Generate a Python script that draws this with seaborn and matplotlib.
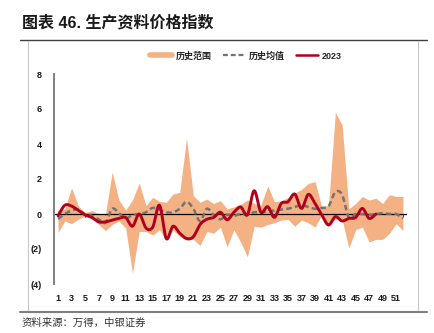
import numpy as np
import pandas as pd
import seaborn as sns
import matplotlib
matplotlib.use("Agg")
import matplotlib.pyplot as plt
from matplotlib.lines import Line2D

# ---------------- data ----------------
weeks = list(range(1, 53))
range_high = [0.25, 0.3, 1.5, 0.45, 0.08, 0.2, 0.0, -0.05, 2.4, 0.8, 0.22, 0.8, 1.77, 0.48,
              0.95, 0.72, 0.67, 1.14, 1.24, 4.35, 1.05, 0.67, 0.85, 0.6, 0.76, 0.3, 0.4, 0.55,
              0.8, 0.6, 0.5, 1.6, 0.7, 0.75, 0.95, 1.2, 1.4, 1.75, 1.85, 0.4, 0.5, 5.8, 5.1,
              0.3, 0.6, 1.0, 0.8, 0.9, 0.6, 1.1, 1.0, 1.0]
range_low = [-1.05, -0.4, -0.55, -0.3, -0.1, -0.2, -0.6, -0.95, -0.6, -0.4, -0.8, -3.4, -1.0,
             -1.0, -1.2, -0.9, -1.5, -0.9, -1.3, -1.5, -1.45, -1.8, -1.0, -1.1, -0.75, -1.87,
             -0.9, -1.6, -2.45, -0.7, -0.75, -0.6, -0.5, -0.35, -0.3, -0.7, -0.35, -0.5, -0.75,
             -0.05, -0.6, -0.3, -0.3, -1.95, -0.9, -0.75, -1.6, -1.45, -1.45, -1.1, -0.55, -0.95]
hist_mean = [-0.28, 0.0, 0.2, 0.25, -0.05, -0.1, -0.3, -0.5, 0.3, 0.05, -0.25, -0.05, 0.0,
             0.1, 0.35, 0.25, 0.1, 0.1, 0.3, 0.7, 0.3, -0.4, 0.3, -0.05, -0.3, -0.05, -0.1,
             0.0, 0.0, 0.1, 0.1, 0.15, 0.2, 0.25, 0.3, 0.4, 0.5, 0.4, 0.3, 0.35, 0.45, 1.25,
             1.1, -0.2, 0.0, 0.0, -0.05, 0.0, 0.05, 0.0, 0.0, -0.25]
y2023 = [-0.1, 0.5, 0.45, 0.2, -0.05, -0.2, -0.45, -0.45, -0.35, -0.25, -0.2, -0.7, 0.0,
         -0.8, -0.75, 0.5, -1.4, -0.7, -1.1, -1.4, -1.3, -0.6, -0.3, -0.2, 0.1, -0.33, 0.1,
         0.4, -0.05, 1.33, 0.1, 0.42, -0.19, 0.6, 0.7, 1.14, 0.32, 1.12, 0.6, -0.05, -0.63,
         -0.15, -0.4, -0.25, -0.2, 0.32, -0.25, 0.0]
ytick_vals = [-4, -2, 0, 2, 4, 6, 8]
ytick_labels = ["(4)", "(2)", "0", "2", "4", "6", "8"]
xtick_vals = list(range(1, 52, 2))
legend_labels = ["历史范围", "历史均值", "2023"]
title = "图表 46. 生产资料价格指数"
source = "资料来源：万得，中银证券"

# ---------------- style ----------------
sns.set_theme(style="white")
plt.rcParams["font.family"] = ["Liberation Sans", "Noto Sans CJK SC", "DejaVu Sans"]

C_FILL = "#F4B183"
C_MEAN = "#737373"
C_RED = "#B0001E"


def smooth(x, y, n=16):
    """Excel-style smoothed line (Catmull-Rom Bezier) through the data points."""
    x = np.asarray(x, float)
    y = np.asarray(y, float)
    xs, ys = [], []
    m = len(x)
    t = np.linspace(0, 1, n, endpoint=False)
    for i in range(m - 1):
        i0, i3 = max(i - 1, 0), min(i + 2, m - 1)
        for arr, out in ((x, xs), (y, ys)):
            p0, p1, p2, p3 = arr[i0], arr[i], arr[i + 1], arr[i3]
            c1 = p1 + (p2 - p0) / 6.0
            c2 = p2 - (p3 - p1) / 6.0
            out.extend((1 - t) ** 3 * p1 + 3 * (1 - t) ** 2 * t * c1
                       + 3 * (1 - t) * t ** 2 * c2 + t ** 3 * p2)
    xs.append(x[-1])
    ys.append(y[-1])
    return np.array(xs), np.array(ys)


W, H = 435, 333
fig = plt.figure(figsize=(W / 100, H / 100), dpi=100)
ax = fig.add_axes([54 / W, 1 - 284 / H, (407 - 54) / W, (284 - 74) / H])

ax.fill_between(weeks, range_low, range_high, color=C_FILL, lw=0, zorder=1)

mx, my = smooth(weeks, hist_mean)
sns.lineplot(x=mx, y=my, ax=ax, color=C_MEAN, lw=1.8, zorder=3,
             linestyle=(0, (2.2, 1.3)), estimator=None, sort=False)

rx, ry = smooth(weeks[:len(y2023)], y2023)
sns.lineplot(x=rx, y=ry, ax=ax, color=C_RED, lw=2.1, zorder=4, estimator=None, sort=False)

ax.axhline(0, color="black", lw=0.9, zorder=2)

ax.set_xlim(0.4, 52.6)
ax.set_ylim(-4, 8)

for s in ["top", "right", "bottom"]:
    ax.spines[s].set_visible(False)
ax.spines["left"].set_color("#808080")
ax.spines["left"].set_linewidth(1.4)

ax.set_yticks(ytick_vals)
ax.set_yticklabels(ytick_labels)
ax.tick_params(axis="y", direction="out", length=3, width=0.8, color="#808080",
               pad=6, labelsize=6.5, labelcolor="#1a1a1a")
for lab in ax.get_yticklabels():
    lab.set_fontweight("bold")

ax.set_xticks(xtick_vals)
ax.set_xticklabels([str(v) for v in xtick_vals])
ax.tick_params(axis="x", length=0, pad=7, labelsize=6.5, labelcolor="#1a1a1a")
for lab in ax.get_xticklabels():
    lab.set_fontweight("bold")

# tick marks on the zero line
sec = ax.secondary_xaxis(1 / 3)
sec.set_xticks(weeks)
sec.tick_params(axis="x", direction="out", length=2.5, width=0.8, color="black",
                labelbottom=False, labeltop=False)
sec.spines["bottom"].set_visible(False)
sec.spines["top"].set_visible(False)

ax.set_xlabel("")
ax.set_ylabel("")

handles = [Line2D([0], [0], color=C_FILL, lw=4),
           Line2D([0], [0], color=C_MEAN, lw=1.6, linestyle=(0, (2.2, 1.3))),
           Line2D([0], [0], color=C_RED, lw=1.8)]
fig.legend(handles, legend_labels, loc="center", bbox_to_anchor=(246 / W, 1 - 56 / H),
           ncol=3, frameon=False, handlelength=2.5, handletextpad=0.4,
           columnspacing=1.2, prop={"weight": "bold", "size": 6.5})

fig.text(22 / W, 1 - 23 / H, title, fontsize=11.5, fontweight="bold", color="#1a1a1a",
         va="center", ha="left")
fig.add_artist(Line2D([20 / W, 427 / W], [1 - 40 / H] * 2, color="#404040", lw=1.0))
fig.add_artist(Line2D([28 / W, 28 / W], [1 - 41 / H, 1 - 310 / H], color="#C8C8C8", lw=0.8))
fig.add_artist(Line2D([418 / W, 418 / W], [1 - 41 / H, 1 - 310 / H], color="#C8C8C8", lw=0.8))
fig.add_artist(Line2D([20 / W, 427 / W], [1 - 312 / H] * 2, color="#7F7F7F", lw=1.5))
fig.text(22 / W, 1 - 323 / H, source, fontsize=7.5, color="#333333", va="center", ha="left",
         style="italic")

fig.savefig("out.png", dpi=100)
